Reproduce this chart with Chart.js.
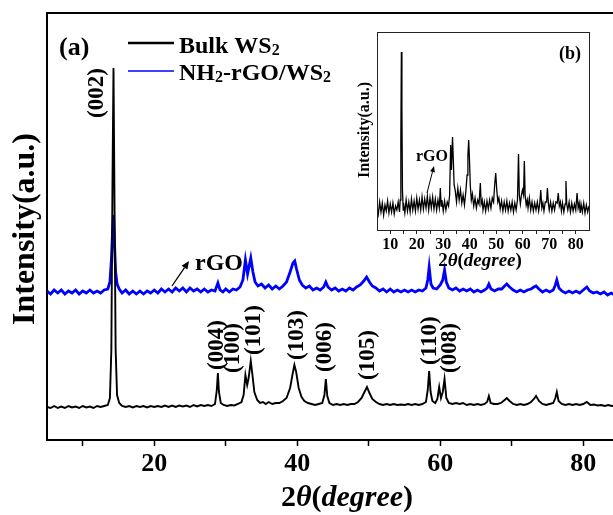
<!DOCTYPE html>
<html><head><meta charset="utf-8">
<script src="https://cdn.jsdelivr.net/npm/chart.js@4/dist/chart.umd.min.js"></script>
<style>
html,body{margin:0;padding:0;background:#fff;overflow:hidden;width:613px;height:515px;}
#wrap{position:relative;width:613px;height:515px;overflow:hidden;background:#fff;}
#main{position:absolute;left:0;top:0;}
#inset{position:absolute;left:340px;top:20px;}
</style></head><body>
<div id="wrap"><canvas id="main" width="640" height="515"></canvas><canvas id="inset" width="260" height="255"></canvas></div>
<script>
// ---- data: [2theta, intensity (a.u.)] ----
const bulkWS2 = [[5,33],[5.5,32],[6,34],[6.5,32],[7,33.5],[7.5,32],[8,34],[8.5,32.5],[9,33.5],[9.5,32],[10,34],[10.5,32.5],[11,33.5],[11.5,32],[12,34],[12.5,33],[13,34],[13.5,35],[13.8,42],[14.0,90],[14.15,250],[14.3,372],[14.45,230],[14.6,90],[14.8,45],[15.1,37],[15.5,34],[16,33],[16.5,34],[17,32.5],[17.5,34],[18,33],[18.5,34],[19,32.5],[19.5,34],[20,33],[20.5,34],[21,33],[21.5,34.5],[22,33],[22.5,34.5],[23,33],[23.5,34.5],[24,33.5],[24.5,34.5],[25,33],[25.5,35],[26,33.5],[26.5,35],[27,34],[27.5,35],[28,34],[28.5,36],[28.75,50],[28.9,67],[29.05,48],[29.3,37],[29.7,35],[30.2,34],[30.7,35],[31.2,34.5],[31.7,36],[32.2,38],[32.5,45],[32.75,65],[33.0,55],[33.2,62],[33.5,79],[33.75,64],[34.0,48],[34.4,40],[34.8,37],[35.2,38],[35.6,36],[36,38],[36.5,36],[37,37],[37.5,37],[38,39],[38.5,42],[39,52],[39.35,66],[39.6,75],[39.85,68],[40.2,52],[40.6,43],[41,39],[41.5,37],[42,36],[42.5,35],[43,36],[43.5,37],[43.8,45],[44.0,61],[44.2,44],[44.5,37],[45,35],[45.5,36],[46,35],[46.5,36],[47,35],[47.5,36],[48,36],[48.5,38],[49,42],[49.4,48],[49.75,53],[50.1,47],[50.5,41],[51,38],[51.5,36],[52,35],[52.5,36],[53,35],[53.5,36],[54,35],[54.5,35.5],[55,35],[55.5,36],[56,35],[56.5,36],[57,35],[57.5,36],[58,38],[58.25,50],[58.45,69],[58.65,48],[58.9,39],[59.3,37],[59.6,41],[59.85,53],[60.1,42],[60.35,48],[60.6,61],[60.85,42],[61.2,37],[61.7,36],[62.2,37],[62.7,36],[63.2,37],[63.7,35],[64.2,36],[64.7,35],[65.2,36],[65.7,35],[66.2,36],[66.55,38],[66.8,44],[67.05,37],[67.5,36],[68,36],[68.5,37],[69,40],[69.3,42],[69.7,39],[70.2,36],[70.7,35],[71.2,36],[71.7,35],[72.2,36],[72.7,38],[73.1,41],[73.4,44],[73.8,39],[74.3,36],[74.8,35],[75.3,36],[75.8,37],[76.1,42],[76.3,48],[76.55,39],[77,36],[77.5,35],[78,36],[78.5,35],[79,36],[79.5,35],[80,36],[80.5,38],[81,35],[81.5,35.5],[82,34.5],[82.5,35],[83,34],[83.5,35],[84,34],[84.5,34.5],[85,35]];

const nh2rGOWS2 = [[5,149],[5.5,146],[6,150],[6.5,147],[7,150],[7.5,146],[8,149],[8.5,147],[9,150],[9.5,146],[10,149],[10.5,147],[11,150],[11.5,147],[12,149],[12.5,147],[13,150],[13.5,151],[13.8,158],[14.0,180],[14.15,205],[14.3,225],[14.45,195],[14.6,168],[14.8,156],[15.1,151],[15.5,147],[16,150],[16.5,146],[17,149],[17.5,146],[18,149],[18.5,146],[19,149],[19.5,147],[20,150],[20.5,147],[21,151],[21.5,148],[22,151],[22.5,148],[23,152],[23.5,149],[24,152],[24.5,148],[25,152],[25.5,149],[26,151],[26.5,148],[27,151],[27.5,148],[28,150],[28.5,149],[28.9,157],[29.2,150],[29.6,148],[30,151],[30.5,148],[31,151],[31.5,150],[32,153],[32.4,160],[32.75,180],[33.05,166],[33.5,182],[33.8,168],[34.1,158],[34.5,154],[35,156],[35.5,152],[36,155],[36.5,151],[37,154],[37.5,151],[38,154],[38.5,158],[39,168],[39.4,177],[39.65,179],[39.9,171],[40.3,160],[40.7,155],[41.2,152],[41.7,154],[42.2,150],[42.7,152],[43.2,150],[43.7,153],[44.0,158],[44.3,153],[44.8,150],[45.3,152],[45.8,149],[46.3,151],[46.8,149],[47.3,152],[47.8,150],[48.3,153],[48.8,155],[49.3,159],[49.7,163],[50.1,158],[50.5,154],[51,152],[51.5,149],[52,151],[52.5,148],[53,151],[53.5,148],[54,150],[54.5,148],[55,150],[55.5,148],[56,150],[56.5,148],[57,150],[57.5,149],[58,152],[58.25,160],[58.45,173],[58.7,156],[59,152],[59.5,151],[60,155],[60.35,160],[60.6,170],[60.85,158],[61.2,152],[61.7,150],[62.2,152],[62.7,149],[63.2,151],[63.7,149],[64.2,151],[64.7,148],[65.2,150],[65.7,148],[66.2,150],[66.55,152],[66.8,156],[67.1,151],[67.6,149],[68.1,151],[68.6,151],[69,154],[69.3,156],[69.7,153],[70.2,150],[70.7,148],[71.2,150],[71.7,148],[72.2,150],[72.7,151],[73.1,153],[73.4,154],[73.8,151],[74.3,148],[74.8,150],[75.3,148],[75.8,150],[76.1,155],[76.3,160],[76.6,152],[77,149],[77.5,147],[78,149],[78.5,147],[79,149],[79.5,147],[80,150],[80.5,153],[80.9,149],[81.4,147],[81.9,148],[82.4,146],[82.9,148],[83.4,145],[83.9,147],[84.4,145],[85,146]];

const insetPattern = [[5,24],[5.5,16],[6,28],[6.5,18],[7,27],[7.5,15],[8,25],[8.5,19],[9,29],[9.5,17],[10,26],[10.5,18],[11,27],[11.5,16],[12,24],[12.5,20],[13,28],[13.5,18],[13.75,30],[14.0,90],[14.2,178],[14.4,120],[14.6,40],[14.9,20],[15,27],[15.5,17],[16,30],[16.5,19],[17,28],[17.5,18],[18,31],[18.5,20],[19,29],[19.5,19],[20,32],[20.5,21],[21,30],[21.5,20],[22,33],[22.5,21],[23,31],[23.5,22],[24,34],[24.5,20],[25,32],[25.5,22],[26,33],[26.5,21],[27,31],[27.5,20],[28,30],[28.5,22],[28.9,42],[29.2,24],[29.5,30],[30,19],[30.5,29],[31,20],[31.5,28],[32,24],[32.4,35],[32.8,85],[33.1,60],[33.5,93],[33.8,70],[34.1,45],[34.5,40],[35,28],[35.5,42],[36,30],[36.5,40],[37,27],[37.5,35],[38,25],[38.5,38],[39,55],[39.3,75],[39.6,90],[39.9,70],[40.2,45],[40.6,30],[41,36],[41.5,24],[42,32],[42.5,22],[43,30],[43.5,26],[44,47],[44.3,26],[44.7,30],[45,20],[45.5,28],[46,19],[46.5,29],[47,21],[47.5,30],[48,22],[48.5,32],[49,28],[49.4,45],[49.8,57],[50.2,40],[50.6,28],[51,32],[51.5,21],[52,29],[52.5,19],[53,28],[53.5,20],[54,29],[54.5,19],[55,27],[55.5,20],[56,28],[56.5,18],[57,27],[57.5,20],[58,30],[58.4,76],[58.7,35],[59.1,26],[59.5,35],[59.9,40],[60.3,35],[60.6,69],[60.9,35],[61.3,25],[61.7,30],[62,22],[62.5,32],[63,20],[63.5,28],[64,19],[64.5,27],[65,20],[65.5,28],[66,19],[66.4,26],[66.8,40],[67.2,22],[67.6,27],[68,19],[68.5,28],[69,28],[69.3,42],[69.7,26],[70,20],[70.5,28],[71,19],[71.5,27],[72,20],[72.5,28],[73,27],[73.4,37],[73.8,24],[74.2,28],[74.6,19],[75,27],[75.5,18],[76,26],[76.3,49],[76.6,26],[77,20],[77.5,28],[78,18],[78.5,27],[79,19],[79.5,26],[80,20],[80.5,37],[80.9,22],[81.3,27],[81.7,17],[82,26],[82.5,18],[83,27],[83.5,17],[84,25],[84.5,18],[85,24]];

const mainTickLabels = ['20','40','60','80'];
const insetTickLabels = ['10','20','30','40','50','60','70','80'];
const seriesNames = ['Bulk WS2','NH2-rGO/WS2'];
const peakLabels = ['(002)','(004)','(100)','(101)','(103)','(006)','(105)','(110)','(008)'];

// ---- annotation placement (text anchors in data coords) ----
const peakLabelAnchor = [[12.0,322],[28.8,70],[31.0,67],[33.9,85],[40.0,80],[43.9,68],[49.9,60],[58.6,75],[61.4,67]];

const SERIF = '"Liberation Serif","Times New Roman",serif';
const f = (sz, st) => (st || 'bold') + ' ' + sz + 'px ' + SERIF;

function drawRuns(ctx, runs, x, y, align) {
  let total = 0;
  runs.forEach(r => { ctx.font = r.font; r.w = ctx.measureText(r.t).width; total += r.w; });
  let cx = align === 'center' ? x - total / 2 : x;
  ctx.textAlign = 'left';
  ctx.textBaseline = 'alphabetic';
  runs.forEach(r => { ctx.font = r.font; ctx.fillText(r.t, cx, y + (r.dy || 0)); cx += r.w; });
}
function arrow(ctx, x1, y1, x2, y2, hl, hw, lw) {
  ctx.save();
  ctx.strokeStyle = '#000'; ctx.fillStyle = '#000'; ctx.lineWidth = lw;
  const a = Math.atan2(y2 - y1, x2 - x1);
  const bx = x2 - hl * Math.cos(a), by = y2 - hl * Math.sin(a);
  ctx.beginPath(); ctx.moveTo(x1, y1); ctx.lineTo(bx, by); ctx.stroke();
  ctx.beginPath();
  ctx.moveTo(x2, y2);
  ctx.lineTo(bx + hw * Math.sin(a), by - hw * Math.cos(a));
  ctx.lineTo(bx - hw * Math.sin(a), by + hw * Math.cos(a));
  ctx.closePath(); ctx.fill();
  ctx.restore();
}

const mainDecor = {
  id: 'mainDecor',
  afterDraw(chart) {
    const ctx = chart.ctx, a = chart.chartArea;
    const xs = chart.scales.x, ys = chart.scales.y;
    ctx.save();
    // top frame line
    ctx.strokeStyle = '#000'; ctx.lineWidth = 2;
    ctx.beginPath(); ctx.moveTo(a.left - 1, a.top); ctx.lineTo(a.right + 30, a.top); ctx.stroke();
    ctx.fillStyle = '#000';
    // panel label
    drawRuns(ctx, [{t: '(a)', font: f(26)}], 59, 55, 'left');
    // legend
    ctx.lineWidth = 2.4;
    ctx.strokeStyle = '#000';
    ctx.beginPath(); ctx.moveTo(128, 43); ctx.lineTo(174, 43); ctx.stroke();
    ctx.strokeStyle = '#0000ff'; ctx.lineWidth = 1.6;
    ctx.beginPath(); ctx.moveTo(128, 71); ctx.lineTo(174, 71); ctx.stroke();
    ctx.fillStyle = '#000';
    drawRuns(ctx, [{t: 'Bulk WS', font: f(24)}, {t: '2', font: f(16), dy: 2}], 179, 53, 'left');
    drawRuns(ctx, [{t: 'NH', font: f(24)}, {t: '2', font: f(16), dy: 2}, {t: '-rGO/WS', font: f(24)}, {t: '2', font: f(16), dy: 2}], 179, 80, 'left');
    // peak (hkl) labels
    ctx.font = f(23);
    peakLabels.forEach((t, i) => {
      const px = xs.getPixelForValue(peakLabelAnchor[i][0]);
      const py = ys.getPixelForValue(peakLabelAnchor[i][1]);
      ctx.save(); ctx.translate(px, py); ctx.rotate(-Math.PI / 2);
      ctx.textAlign = 'left'; ctx.textBaseline = 'middle';
      ctx.fillText(t, 0, 0); ctx.restore();
    });
    // rGO annotation
    drawRuns(ctx, [{t: 'rGO', font: f(24)}], 195, 270, 'left');
    arrow(ctx, 172, 286, 189, 261, 8, 3.5, 1.3);
    // y title
    ctx.save(); ctx.translate(26, 229); ctx.rotate(-Math.PI / 2);
    ctx.font = f(32); ctx.textAlign = 'center'; ctx.textBaseline = 'middle';
    ctx.fillText('Intensity(a.u.)', 0, 0); ctx.restore();
    // x title
    drawRuns(ctx, [{t: '2', font: f(30)}, {t: 'θ', font: f(30, 'italic bold')}, {t: '(', font: f(30)}, {t: 'degree', font: f(30, 'italic bold')}, {t: ')', font: f(30)}], 347, 506, 'center');
    ctx.restore();
  }
};

new Chart(document.getElementById('main'), {
  type: 'line',
  data: {datasets: [
    {label: seriesNames[0], data: bulkWS2.map(p => ({x: p[0], y: p[1]})), borderColor: '#000000', borderWidth: 1.9, pointRadius: 0, tension: 0, fill: false},
    {label: seriesNames[1], data: nh2rGOWS2.map(p => ({x: p[0], y: p[1]})), borderColor: '#0000ff', borderWidth: 2.8, pointRadius: 0, tension: 0, fill: false}
  ]},
  options: {
    responsive: false, animation: false, devicePixelRatio: 1,
    layout: {padding: {left: 0, top: 13, right: 21, bottom: 0}},
    plugins: {legend: {display: false}, tooltip: {enabled: false}},
    scales: {
      x: {
        type: 'linear', min: 5, max: 85,
        afterBuildTicks: s => { s.ticks = [10, 20, 30, 40, 50, 60, 70, 80].map(v => ({value: v})); },
        afterFit: s => { s.height = 75; },
        ticks: {callback: v => mainTickLabels.includes(String(v)) ? String(v) : '', font: {family: SERIF, size: 26, weight: 'bold'}, color: '#000', maxRotation: 0, autoSkip: false, padding: 3},
        grid: {drawOnChartArea: false, color: '#000', tickLength: 6, tickWidth: 1.5},
        border: {display: true, color: '#000', width: 2}
      },
      y: {
        min: 0, max: 427,
        afterFit: s => { s.width = 47; },
        ticks: {display: false},
        grid: {drawOnChartArea: false, drawTicks: false},
        border: {display: true, color: '#000', width: 2}
      }
    }
  },
  plugins: [mainDecor]
});

const insetDecor = {
  id: 'insetDecor',
  afterDraw(chart) {
    const ctx = chart.ctx, a = chart.chartArea;
    ctx.save();
    ctx.strokeStyle = '#222'; ctx.lineWidth = 1;
    ctx.strokeRect(a.left + 0.5, a.top + 0.5, a.right - a.left, a.bottom - a.top);
    ctx.fillStyle = '#000';
    drawRuns(ctx, [{t: '(b)', font: f(18)}], 219, 39, 'left');
    drawRuns(ctx, [{t: 'rGO', font: f(16)}], 76, 141, 'left');
    arrow(ctx, 87, 173, 94, 146, 6, 2.5, 1);
    ctx.save(); ctx.translate(25, 110); ctx.rotate(-Math.PI / 2);
    ctx.font = f(16); ctx.textAlign = 'center'; ctx.textBaseline = 'middle';
    ctx.fillText('Intensity(a.u.)', 0, 0); ctx.restore();
    drawRuns(ctx, [{t: '2', font: f(19)}, {t: 'θ', font: f(19, 'italic bold')}, {t: '(', font: f(19)}, {t: 'degree', font: f(19, 'italic bold')}, {t: ')', font: f(19)}], 140, 246, 'center');
    ctx.restore();
  }
};

new Chart(document.getElementById('inset'), {
  type: 'line',
  data: {datasets: [
    {label: seriesNames[1], data: insetPattern.map(p => ({x: p[0], y: p[1]})), borderColor: '#000000', borderWidth: 1.3, pointRadius: 0, tension: 0, fill: false}
  ]},
  options: {
    responsive: false, animation: false, devicePixelRatio: 1,
    layout: {padding: {left: 0, top: 12, right: 11, bottom: 0}},
    plugins: {legend: {display: false}, tooltip: {enabled: false}},
    scales: {
      x: {
        type: 'linear', min: 5, max: 85,
        afterBuildTicks: s => { const t = []; for (let v = 10; v <= 80; v += 5) t.push({value: v}); s.ticks = t; },
        afterFit: s => { s.height = 45; },
        ticks: {callback: v => insetTickLabels.includes(String(v)) ? String(v) : '', font: {family: SERIF, size: 16, weight: 'bold'}, color: '#000', maxRotation: 0, autoSkip: false, padding: 1},
        grid: {drawOnChartArea: false, color: '#222', tickLength: 4, tickWidth: 1},
        border: {display: true, color: '#222', width: 1}
      },
      y: {
        min: 0, max: 198,
        afterFit: s => { s.width = 37; },
        ticks: {display: false},
        grid: {drawOnChartArea: false, drawTicks: false},
        border: {display: true, color: '#222', width: 1}
      }
    }
  },
  plugins: [insetDecor]
});
</script>
</body></html>
